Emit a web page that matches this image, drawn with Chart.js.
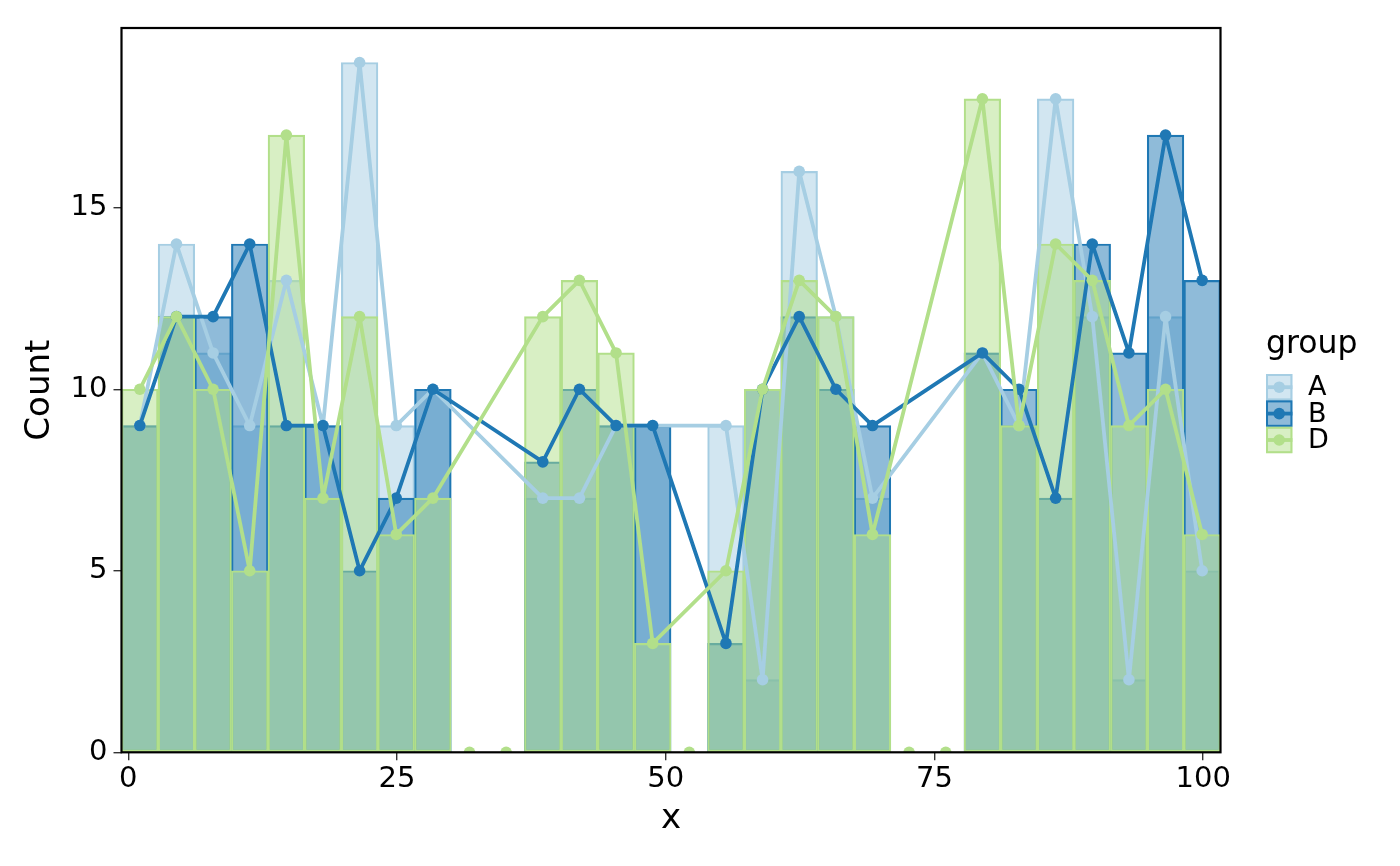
<!DOCTYPE html>
<html>
<head>
<meta charset="utf-8">
<title>Count by x and group</title>
<script src="https://cdn.jsdelivr.net/npm/chart.js@4.4.0/dist/chart.umd.min.js"></script>
<style>
    html, body { margin: 0; padding: 0; background: #fff; }
    canvas { display: block; }
</style>
</head>
<body>
<canvas id="histChart" width="1400" height="866"></canvas>
<script>
// 30 equal-width bins
const binStart = -0.63;
const binWidth = 3.408;

const groups = ['A', 'B', 'D'];
const countsA = [9, 14, 11, 9, 13, 9, 19, 9, 10, 0, 0, 7, 7, 9, 9, 0, 9, 2, 16, 12, 7, 0, 0, 11, 9, 18, 12, 2, 12, 5];
const countsB = [9, 12, 12, 14, 9, 9, 5, 7, 10, 0, 0, 8, 10, 9, 9, 0, 3, 10, 12, 10, 9, 0, 0, 11, 10, 7, 14, 11, 17, 13];
const countsD = [10, 12, 10, 5, 17, 7, 12, 6, 7, 0, 0, 12, 13, 11, 3, 0, 5, 10, 13, 12, 6, 0, 0, 18, 9, 14, 13, 9, 10, 6];

const xTicks = [0, 25, 50, 75, 100];
const yTicks = [0, 5, 10, 15];

const groupColors = { A: '#A6CEE3', B: '#1F78B4', D: '#B2DF8A' };
const FONT = '"DejaVu Sans", "Liberation Sans", sans-serif';

const binCenters = countsA.map((_, i) => binStart + binWidth * (i + 0.5));

function withAlpha(hex, a) {
    const n = parseInt(hex.slice(1), 16);
    return `rgba(${(n >> 16) & 255}, ${(n >> 8) & 255}, ${n & 255}, ${a})`;
}

// empty bins get no bar and no polygon vertex
function binPoints(counts) {
    return counts.map((c, i) => ({ x: binCenters[i], y: c > 0 ? c : null }));
}

function zeroPoints(counts) {
    return counts
        .map((c, i) => ({ x: binCenters[i], y: c }))
        .filter(p => p.y === 0);
}

function barDataset(label, counts, order) {
    const col = groupColors[label];
    return {
        type: 'bar',
        label: label,
        data: binPoints(counts),
        backgroundColor: withAlpha(col, 0.5),
        borderColor: col,
        borderWidth: 1.5,
        borderSkipped: false,
        grouped: false,
        barPercentage: 1,
        categoryPercentage: 1,
        order: order
    };
}

function lineDataset(label, counts, order) {
    const col = groupColors[label];
    return {
        type: 'line',
        label: label,
        data: binPoints(counts),
        borderColor: col,
        backgroundColor: col,
        borderWidth: 3.8,
        borderJoinStyle: 'round',
        borderCapStyle: 'round',
        pointRadius: 5.8,
        pointBorderWidth: 0,
        pointBackgroundColor: col,
        spanGaps: true,
        tension: 0,
        fill: false,
        order: order
    };
}

// black frame round the panel
const panelBorder = {
    id: 'panelBorder',
    afterDatasetsDraw(chart) {
        const { ctx, chartArea: a } = chart;
        ctx.save();
        ctx.strokeStyle = '#000';
        ctx.lineWidth = 2.2;
        ctx.strokeRect(a.left, a.top, a.right - a.left, a.bottom - a.top);
        ctx.restore();
    }
};

// ggplot-like legend: title, keys with bar + line + point
const groupLegend = {
    id: 'groupLegend',
    afterDraw(chart) {
        const ctx = chart.ctx;
        const left = chart.chartArea.right + 45.5;
        const keySize = 26.4;
        const firstTop = 374;
        ctx.save();
        ctx.fillStyle = '#000';
        ctx.font = `31.5px ${FONT}`;
        ctx.textAlign = 'left';
        ctx.textBaseline = 'alphabetic';
        ctx.fillText('group', left, 353);

        groups.forEach((g, i) => {
            const col = groupColors[g];
            const top = firstTop + i * keySize;
            const cy = top + keySize / 2;
            ctx.fillStyle = withAlpha(col, 0.5);
            ctx.fillRect(left, top, keySize, keySize);
            ctx.strokeStyle = col;
            ctx.lineWidth = 2;
            ctx.strokeRect(left + 1, top + 1, keySize - 2, keySize - 2);
            ctx.lineWidth = 3.8;
            ctx.beginPath();
            ctx.moveTo(left, cy);
            ctx.lineTo(left + keySize, cy);
            ctx.stroke();
            ctx.fillStyle = col;
            ctx.beginPath();
            ctx.arc(left + keySize / 2, cy, 5.8, 0, Math.PI * 2);
            ctx.fill();

            ctx.fillStyle = '#000';
            ctx.font = `27px ${FONT}`;
            ctx.textBaseline = 'middle';
            ctx.fillText(g, left + 42, cy + 1);
        });
        ctx.restore();
    }
};

document.addEventListener('DOMContentLoaded', function() {
    const ctx = document.getElementById('histChart');

    new Chart(ctx, {
        type: 'bar',
        data: {
            datasets: [
                // polygons on top, D drawn last
                lineDataset('D', countsD, 0),
                lineDataset('B', countsB, 1),
                lineDataset('A', countsA, 2),
                {
                    type: 'line',
                    label: 'D empty bins',
                    data: zeroPoints(countsD),
                    showLine: false,
                    pointRadius: 5.8,
                    pointBorderWidth: 0,
                    pointBackgroundColor: groupColors.D,
                    order: -1
                },
                barDataset('D', countsD, 3),
                barDataset('B', countsB, 4),
                barDataset('A', countsA, 5)
            ]
        },
        options: {
            responsive: false,
            animation: false,
            events: [],
            devicePixelRatio: 1,
            layout: {
                padding: { top: 28, right: 179.5, bottom: 0, left: 0 }
            },
            plugins: {
                legend: { display: false },
                tooltip: { enabled: false }
            },
            scales: {
                x: {
                    type: 'linear',
                    min: binStart,
                    max: binStart + binWidth * countsA.length,
                    offset: false,
                    afterBuildTicks: (scale) => {
                        scale.ticks = xTicks.map(v => ({ value: v }));
                    },
                    afterFit: (scale) => { scale.height = 113.7; },
                    grid: {
                        offset: false,
                        drawOnChartArea: false,
                        drawTicks: true,
                        tickLength: 8,
                        color: '#333',
                        lineWidth: 1.4
                    },
                    border: { display: false },
                    ticks: {
                        padding: 2,
                        color: '#000',
                        maxRotation: 0,
                        font: { family: FONT, size: 29 }
                    },
                    title: {
                        display: true,
                        text: 'x',
                        color: '#000',
                        padding: { top: 0, bottom: 26 },
                        font: { family: FONT, size: 34 }
                    }
                },
                y: {
                    type: 'linear',
                    min: 0,
                    max: 19.95,
                    afterBuildTicks: (scale) => {
                        scale.ticks = yTicks.map(v => ({ value: v }));
                    },
                    afterFit: (scale) => { scale.width = 121.5; },
                    grid: {
                        drawOnChartArea: false,
                        drawTicks: true,
                        tickLength: 8,
                        color: '#333',
                        lineWidth: 1.4
                    },
                    border: { display: false },
                    ticks: {
                        padding: 6,
                        color: '#000',
                        font: { family: FONT, size: 29 }
                    },
                    title: {
                        display: true,
                        text: 'Count',
                        color: '#000',
                        padding: { top: 20, bottom: 0 },
                        font: { family: FONT, size: 34 }
                    }
                }
            }
        },
        plugins: [panelBorder, groupLegend]
    });
});
</script>
</body>
</html>
